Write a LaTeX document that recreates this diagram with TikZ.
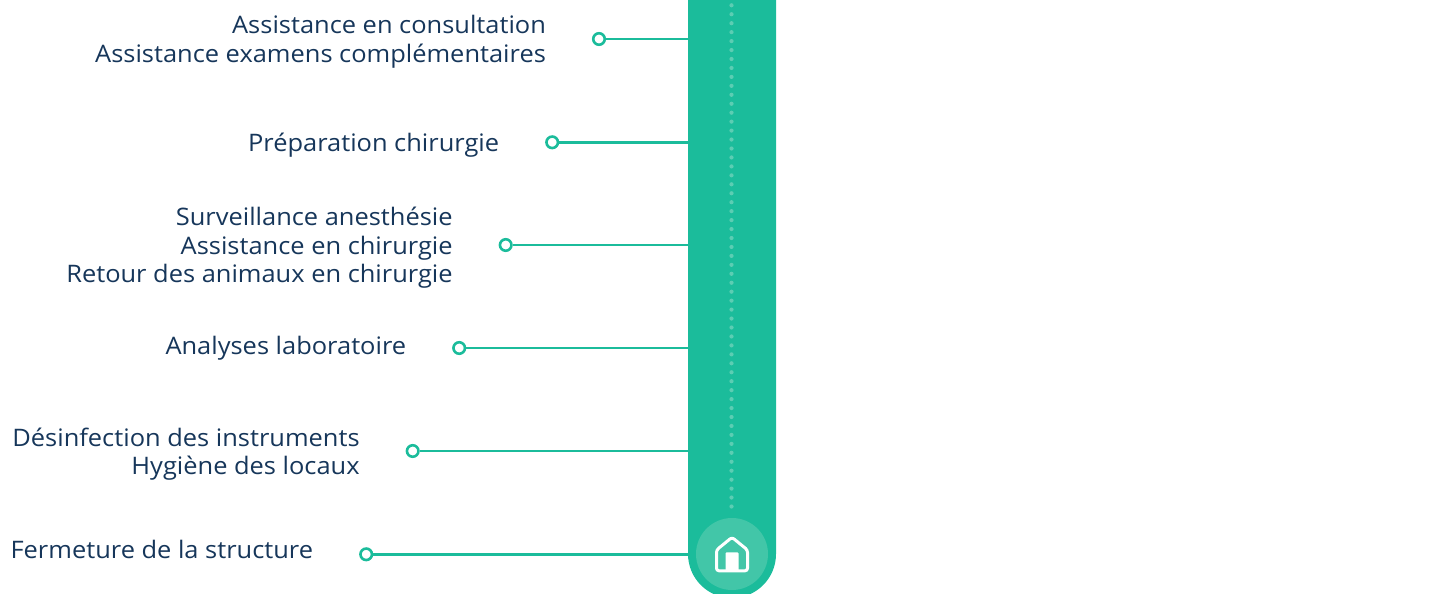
\documentclass[tikz,border=0pt]{standalone}
\usepackage{fontspec}
\setmainfont[FakeStretch=1.055]{Open Sans}
\usetikzlibrary{positioning}
\definecolor{bandgreen}{HTML}{1BBC9B}
\definecolor{dotgreen}{HTML}{5CCDB3}
\definecolor{discgreen}{HTML}{42C6A8}
\definecolor{textnavy}{HTML}{16365A}
\begin{document}
\begin{tikzpicture}[
    x=1pt, y=-1pt,
    node distance=46pt,
 mydot/.style = {
        draw=bandgreen, circle, fill=white, line width=2.6pt,
        minimum size=11.5pt, inner sep=0pt},
mylabel/.style = {
        align=right, text=textnavy, inner sep=0pt, outer sep=0pt,
        font=\fontsize{24.1}{28.6}\selectfont},
     link/.style = {draw=bandgreen, line width=2.4pt}
                    ]
\useasboundingbox (0,0) rectangle (1453,594);
\coordinate (bandedge) at (688,0);
% the dots on the left
\node (dota) [mydot] at (599,39)    {};
\node (dotb) [mydot] at (552.2,142.3) {};
\node (dotc) [mydot] at (505.7,245) {};
\node (dotd) [mydot] at (459.2,348)   {};
\node (dote) [mydot] at (412.7,451) {};
\node (dotf) [mydot] at (366.2,554.3) {};
% the lines
\draw[link] (dota) -- (dota -| bandedge);
\draw[link] (dotb) -- (dotb -| bandedge);
\draw[link] (dotc) -- (dotc -| bandedge);
\draw[link] (dotd) -- (dotd -| bandedge);
\draw[link] (dote) -- (dote -| bandedge);
\draw[link] (dotf) -- (dotf -| bandedge);
% the labels
\node (la) [mylabel, left=of dota, yshift=-3pt]  {Assistance en consultation\\
                                     Assistance examens complémentaires};
\node (lb) [mylabel, left=of dotb, yshift=-3pt]  {Préparation chirurgie};
\node (lc) [mylabel, left=of dotc, yshift=-3pt]  {Surveillance anesthésie\\
                                     Assistance en chirurgie\\
                                     Retour des animaux en chirurgie};
\node (ld) [mylabel, left=of dotd]  {Analyses laboratoire};
\node (le) [mylabel, left=of dote, yshift=-3pt]  {Désinfection des instruments\\
                                     Hygiène des locaux};
\node (lf) [mylabel, left=of dotf, yshift=5pt]  {Fermeture de la structure};
% the band
\fill[bandgreen] (688,0) -- (688,554) arc[start angle=180, end angle=360, radius=44, y radius=-44]
                 -- (776,0) -- cycle;
\foreach \i in {0,...,56}
    \fill[dotgreen] (731.5,5.3+8.95*\i) circle[radius=2.1];
% the home button
\node (home) [circle, fill=discgreen, minimum size=72pt, inner sep=0pt] at (732,554) {};
\draw[white, line width=3pt, line join=round, rounded corners=2.5pt]
      (716.5,550) -- (732,537.3) -- (747.5,550) -- (747.5,570.8) -- (716.5,570.8) -- cycle;
\fill[white, rounded corners=1pt] (725.5,552.3) rectangle (738.5,570.8);
\end{tikzpicture}
\end{document}
